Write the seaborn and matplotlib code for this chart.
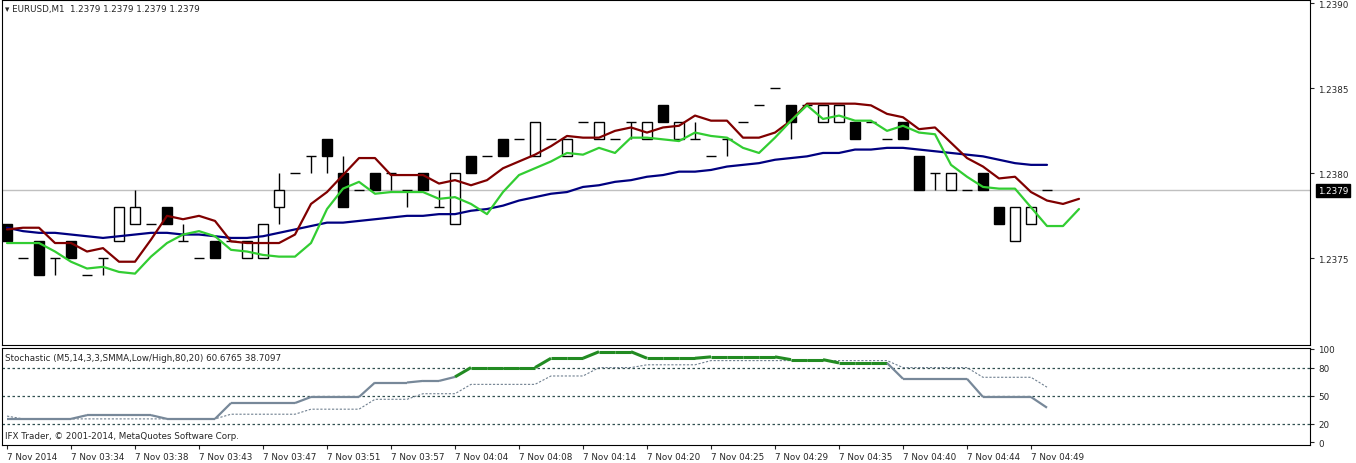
import matplotlib
matplotlib.use("Agg")
import matplotlib.pyplot as plt
import numpy as np
import pandas as pd
import seaborn as sns

# EURUSD M1 candles
opens = [1.2377, 1.2375, 1.2376, 1.2375, 1.2376, 1.2374, 1.2375, 1.2376, 1.2377, 1.2377,
         1.2378, 1.2376, 1.2375, 1.2376, 1.2376, 1.2375, 1.2375, 1.2378, 1.2380, 1.2381,
         1.2382, 1.2380, 1.2379, 1.2380, 1.2380, 1.2379, 1.2380, 1.2378, 1.2377, 1.2381,
         1.2381, 1.2382, 1.2382, 1.2381, 1.2382, 1.2381, 1.2383, 1.2382, 1.2382, 1.2383,
         1.2382, 1.2384, 1.2382, 1.2382, 1.2381, 1.2382, 1.2383, 1.2384, 1.2385, 1.2384,
         1.2384, 1.2383, 1.2383, 1.2383, 1.2383, 1.2382, 1.2383, 1.2381, 1.2380, 1.2379,
         1.2379, 1.2380, 1.2378, 1.2376, 1.2377, 1.2379]
highs = [1.2377, 1.2375, 1.2376, 1.2375, 1.2376, 1.2374, 1.2375, 1.2378, 1.2379, 1.2377,
         1.2378, 1.2377, 1.2375, 1.2376, 1.2376, 1.2376, 1.2377, 1.2380, 1.2380, 1.2381,
         1.2382, 1.2381, 1.2379, 1.2380, 1.2380, 1.2379, 1.2380, 1.2379, 1.2380, 1.2381,
         1.2381, 1.2382, 1.2382, 1.2383, 1.2382, 1.2382, 1.2383, 1.2383, 1.2382, 1.2383,
         1.2383, 1.2384, 1.2383, 1.2383, 1.2381, 1.2382, 1.2383, 1.2384, 1.2385, 1.2384,
         1.2384, 1.2384, 1.2384, 1.2383, 1.2383, 1.2382, 1.2383, 1.2381, 1.2380, 1.2380,
         1.2379, 1.2380, 1.2378, 1.2378, 1.2378, 1.2379]
lows = [1.2376, 1.2375, 1.2374, 1.2374, 1.2375, 1.2374, 1.2374, 1.2376, 1.2377, 1.2377,
        1.2377, 1.2376, 1.2375, 1.2375, 1.2376, 1.2375, 1.2375, 1.2377, 1.2380, 1.2380,
        1.2380, 1.2378, 1.2379, 1.2379, 1.2379, 1.2378, 1.2379, 1.2378, 1.2377, 1.2380,
        1.2381, 1.2381, 1.2382, 1.2381, 1.2382, 1.2381, 1.2383, 1.2382, 1.2382, 1.2382,
        1.2382, 1.2383, 1.2382, 1.2382, 1.2381, 1.2381, 1.2383, 1.2384, 1.2385, 1.2382,
        1.2384, 1.2383, 1.2383, 1.2382, 1.2383, 1.2382, 1.2382, 1.2379, 1.2379, 1.2379,
        1.2379, 1.2379, 1.2377, 1.2376, 1.2377, 1.2379]
closes = [1.2376, 1.2375, 1.2374, 1.2375, 1.2375, 1.2374, 1.2375, 1.2378, 1.2378, 1.2377,
          1.2377, 1.2376, 1.2375, 1.2375, 1.2376, 1.2376, 1.2377, 1.2379, 1.2380, 1.2381,
          1.2381, 1.2378, 1.2379, 1.2379, 1.2380, 1.2379, 1.2379, 1.2378, 1.2380, 1.2380,
          1.2381, 1.2381, 1.2382, 1.2383, 1.2382, 1.2382, 1.2383, 1.2383, 1.2382, 1.2383,
          1.2383, 1.2383, 1.2383, 1.2382, 1.2381, 1.2382, 1.2383, 1.2384, 1.2385, 1.2383,
          1.2384, 1.2384, 1.2384, 1.2382, 1.2383, 1.2382, 1.2382, 1.2379, 1.2380, 1.2380,
          1.2379, 1.2379, 1.2377, 1.2378, 1.2378, 1.2379]

# moving averages (red/green run 2 bars further)
ma_high = [1.23767, 1.23768, 1.23768, 1.23759, 1.23759, 1.23754, 1.23756, 1.23748, 1.23748, 1.23761,
           1.23775, 1.23773, 1.23775, 1.23772, 1.23760, 1.23759, 1.23759, 1.23759, 1.23764, 1.23782,
           1.23789, 1.23799, 1.23809, 1.23809, 1.23799, 1.23799, 1.23799, 1.23794, 1.23796, 1.23793,
           1.23796, 1.23803, 1.23807, 1.23811, 1.23816, 1.23822, 1.23821, 1.23821, 1.23825, 1.23827,
           1.23824, 1.23827, 1.23828, 1.23834, 1.23831, 1.23831, 1.23821, 1.23821, 1.23824, 1.23831,
           1.23841, 1.23841, 1.23841, 1.23841, 1.23840, 1.23835, 1.23833, 1.23826, 1.23827, 1.23818,
           1.23809, 1.23804, 1.23797, 1.23798, 1.23789, 1.23784, 1.23782, 1.23785]
ma_low = [1.23759, 1.23759, 1.23759, 1.23754, 1.23748, 1.23744, 1.23745, 1.23742, 1.23741, 1.23751,
          1.23759, 1.23764, 1.23766, 1.23763, 1.23755, 1.23754, 1.23752, 1.23751, 1.23751, 1.23759,
          1.23779, 1.23791, 1.23795, 1.23788, 1.23789, 1.23789, 1.23789, 1.23785, 1.23786, 1.23782,
          1.23776, 1.23789, 1.23799, 1.23803, 1.23807, 1.23812, 1.23811, 1.23815, 1.23812, 1.23821,
          1.23821, 1.23820, 1.23819, 1.23824, 1.23822, 1.23821, 1.23815, 1.23812, 1.23821, 1.23831,
          1.23840, 1.23832, 1.23834, 1.23831, 1.23831, 1.23825, 1.23828, 1.23824, 1.23823, 1.23805,
          1.23798, 1.23792, 1.23791, 1.23791, 1.23780, 1.23769, 1.23769, 1.23779]
ma_slow = [1.23768, 1.23766, 1.23765, 1.23765, 1.23764, 1.23763, 1.23762, 1.23763, 1.23764, 1.23765,
           1.23765, 1.23764, 1.23764, 1.23763, 1.23762, 1.23762, 1.23763, 1.23765, 1.23767, 1.23769,
           1.23771, 1.23771, 1.23772, 1.23773, 1.23774, 1.23775, 1.23775, 1.23776, 1.23776, 1.23778,
           1.23779, 1.23781, 1.23784, 1.23786, 1.23788, 1.23789, 1.23792, 1.23793, 1.23795, 1.23796,
           1.23798, 1.23799, 1.23801, 1.23801, 1.23802, 1.23804, 1.23805, 1.23806, 1.23808, 1.23809,
           1.23810, 1.23812, 1.23812, 1.23814, 1.23814, 1.23815, 1.23815, 1.23814, 1.23813, 1.23812,
           1.23811, 1.23810, 1.23808, 1.23806, 1.23805, 1.23805]

# stochastic (M5) main and signal
stoch_main = [25, 25, 25, 25, 25, 29, 29, 29, 29, 29, 25, 25, 25, 25, 42, 42, 42, 42, 42,
              48.5, 48.5, 48.5, 48.5, 64, 64, 64, 65.7, 65.7, 70, 80, 80, 80, 80, 80,
              90, 90, 90, 97, 97, 97, 90, 90, 90, 90, 91.5, 91.5, 91.5, 91.5, 91.5,
              88.5, 88.5, 88.5, 85, 85, 85, 85, 68, 68, 68, 68, 68, 48.5, 48.5, 48.5, 48.5, 37]
stoch_signal = [28] + [25] * 13 + [30] * 5 + [35.4] * 4 + [46] * 3 + [52] * 3 + [62] * 5 + \
               [71] * 3 + [80] * 3 + [83] * 4 + [87.5] * 12 + [80] * 5 + [69.6] * 4 + [59]

time_labels = ["7 Nov 2014", "7 Nov 03:34", "7 Nov 03:38", "7 Nov 03:43", "7 Nov 03:47",
               "7 Nov 03:51", "7 Nov 03:57", "7 Nov 04:04", "7 Nov 04:08", "7 Nov 04:14",
               "7 Nov 04:20", "7 Nov 04:25", "7 Nov 04:29", "7 Nov 04:35", "7 Nov 04:40",
               "7 Nov 04:44", "7 Nov 04:49"]
price_ticks = [1.2375, 1.2380, 1.2385, 1.2390]
last_price = 1.2379

sns.set_style("white")
plt.rcParams['font.family'] = ['DejaVu Sans']
FS = 6.3

fig = plt.figure(figsize=(13.56, 4.64), dpi=100)
ax = fig.add_axes([2 / 1356, 118 / 464, 1308 / 1356, 345 / 464])
ax2 = fig.add_axes([2 / 1356, 18 / 464, 1308 / 1356, 97 / 464])

n = len(opens)
idx = np.arange(n)
df = pd.DataFrame({"i": idx, "o": opens, "h": highs, "l": lows, "c": closes})
xmin, xmax = -5 / 16, 1303 / 16

# wicks and bodies
ax.vlines(df.i, df.l, df.h, color="black", lw=1, zorder=2)
body_w = 0.65
up = df[df.c > df.o]
dn = df[df.c < df.o]
dj = df[df.c == df.o]
ax.bar(up.i, up.c - up.o, bottom=up.o, width=body_w, color="white", edgecolor="black", lw=1, zorder=3)
ax.bar(dn.i, dn.o - dn.c, bottom=dn.c, width=body_w, color="black", edgecolor="black", lw=1, zorder=3)
ax.hlines(dj.c, dj.i - body_w / 2, dj.i + body_w / 2, color="black", lw=1, zorder=3)

ax.axhline(last_price, color="#c0c0c0", lw=1, zorder=1)

sns.lineplot(x=np.arange(len(ma_slow)), y=ma_slow, ax=ax, color="#000080", lw=1.6, zorder=4)
sns.lineplot(x=np.arange(len(ma_high)), y=ma_high, ax=ax, color="#800000", lw=1.6, zorder=4)
sns.lineplot(x=np.arange(len(ma_low)), y=ma_low, ax=ax, color="#32cd32", lw=1.6, zorder=4)

ax.set_xlim(xmin, xmax)
ax.set_ylim(1.23699, 1.23902)
ax.set_xticks([])
ax.yaxis.tick_right()
ax.set_yticks(price_ticks)
ax.set_yticklabels([f"{p:.4f}" for p in price_ticks], fontsize=FS)
ax.tick_params(axis="y", length=3, width=0.8, pad=3, right=True, direction="out")
ax.text(last_price and 1.006, last_price, f"{last_price:.4f}", transform=ax.get_yaxis_transform(),
        fontsize=FS, color="white", va="center", ha="left",
        bbox=dict(boxstyle="square,pad=0.2", fc="black", ec="black"))
ax.text(0.002, 0.975, "\u25be EURUSD,M1  1.2379 1.2379 1.2379 1.2379", transform=ax.transAxes,
        fontsize=FS, va="center", ha="left")

# stochastic panel
sx = np.arange(len(stoch_main))
for i in range(len(stoch_main) - 1):
    seg_green = min(stoch_main[i], stoch_main[i + 1]) >= 70
    ax2.plot(sx[i:i + 2], stoch_main[i:i + 2], color="#228b22" if seg_green else "#778899",
             lw=2.2 if seg_green else 1.6, solid_capstyle="butt", zorder=3)
sns.lineplot(x=sx, y=stoch_signal, ax=ax2, color="#708090", lw=0.8, linestyle=(0, (2, 1.5)), zorder=2)
for lvl in [20, 50, 80]:
    ax2.axhline(lvl, color="#2f4f4f", lw=0.9, linestyle=(0, (2, 2)), zorder=1)

ax2.set_xlim(xmin, xmax)
ax2.set_ylim(2, 99.5)
ax2.yaxis.tick_right()
ax2.set_yticks([0, 20, 50, 80, 100])
ax2.set_yticklabels(["0", "20", "50", "80", "100"], fontsize=FS)
ax2.tick_params(axis="y", length=3, width=0.8, pad=3, right=True, direction="out")
ax2.set_yticks([0, 20, 50, 80, 100])
ax2.set_ylim(-3, 101)
ax2.set_xticks(np.arange(0, 4 * len(time_labels), 4))
ax2.set_xticklabels(time_labels, fontsize=FS, ha="left")
ax2.tick_params(axis="x", length=3, width=0.8, pad=2, bottom=True, direction="out")
ax2.text(0.002, 0.9, "Stochastic (M5,14,3,3,SMMA,Low/High,80,20) 60.6765 38.7097",
         transform=ax2.transAxes, fontsize=FS, va="center", ha="left")
ax2.text(0.002, 0.1, "IFX Trader, \u00a9 2001-2014, MetaQuotes Software Corp.",
         transform=ax2.transAxes, fontsize=FS, va="center", ha="left")

for a in (ax, ax2):
    for s in a.spines.values():
        s.set_color("black")
        s.set_linewidth(0.8)

fig.savefig("out.png", dpi=100, facecolor="white")
